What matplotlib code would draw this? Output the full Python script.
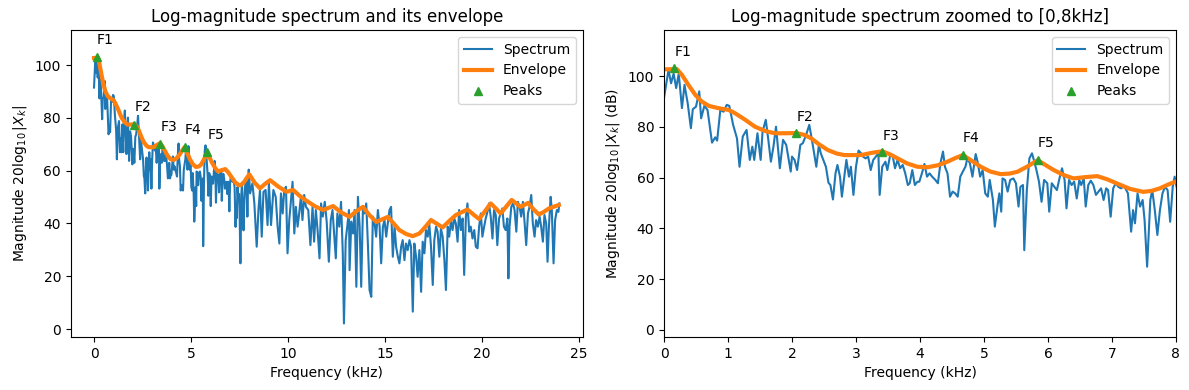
import matplotlib
matplotlib.use('Agg')
import matplotlib.pyplot as plt

# spectrum (kHz, dB)
spec_khz = [
    0.00, 0.07, 0.11, 0.15, 0.19, 0.23, 0.28, 0.32, 0.37, 0.42, 0.45, 0.50, 0.55, 0.58,
    0.63, 0.68, 0.75, 0.80, 0.83, 0.88, 0.93, 0.98, 1.02, 1.08, 1.14, 1.18, 1.23, 1.29,
    1.34, 1.38, 1.41, 1.46, 1.51, 1.54, 1.59, 1.63, 1.67, 1.71, 1.75, 1.81, 1.86, 1.91,
    1.98, 2.00, 2.04, 2.08, 2.13, 2.17, 2.22, 2.27, 2.32, 2.38, 2.42, 2.45, 2.49, 2.53,
    2.57, 2.60, 2.64, 2.68, 2.71, 2.75, 2.78, 2.82, 2.85, 2.89, 2.92, 2.96, 3.00, 3.04,
    3.08, 3.11, 3.15, 3.19, 3.23, 3.27, 3.31, 3.35, 3.37, 3.41, 3.46, 3.49, 3.53, 3.57,
    3.61, 3.65, 3.69, 3.73, 3.77, 3.81, 3.84, 3.88, 3.92, 3.96, 3.99, 4.03, 4.07, 4.11,
    4.15, 4.19, 4.24, 4.28, 4.32, 4.36, 4.39, 4.43, 4.47, 4.51, 4.55, 4.59, 4.63, 4.67,
    4.71, 4.74, 4.78, 4.82, 4.87, 4.90, 4.94, 4.98, 5.02, 5.06, 5.09, 5.14, 5.17, 5.21,
    5.24, 5.27, 5.29, 5.33, 5.37, 5.41, 5.46, 5.50, 5.54, 5.57, 5.61, 5.63, 5.67, 5.71,
    5.75, 5.78, 5.82, 5.86, 5.90, 5.94, 5.99, 6.02, 6.06, 6.10, 6.14, 6.18, 6.22, 6.26,
    6.29, 6.33, 6.37, 6.41, 6.45, 6.49, 6.52, 6.56, 6.59, 6.63, 6.67, 6.71, 6.75, 6.79,
    6.83, 6.87, 6.91, 6.94, 6.98, 7.02, 7.06, 7.10, 7.14, 7.18, 7.21, 7.25, 7.30, 7.33,
    7.36, 7.40, 7.44, 7.48, 7.51, 7.55, 7.60, 7.63, 7.67, 7.71, 7.75, 7.79, 7.83, 7.87,
    7.91, 7.95, 7.98,
    8.05, 8.17, 8.27, 8.39, 8.48, 8.56, 8.65, 8.74, 8.85, 8.95, 9.02, 9.13, 9.25, 9.37,
    9.47, 9.56, 9.64, 9.73, 9.81, 9.90, 9.98, 10.07, 10.16, 10.24, 10.33, 10.41, 10.50,
    10.58, 10.67, 10.75, 10.84, 10.93, 11.05, 11.16, 11.27, 11.35, 11.44, 11.53, 11.63,
    11.71, 11.80, 11.90, 12.00, 12.11, 12.21, 12.30, 12.38, 12.47, 12.55, 12.65, 12.74,
    12.83, 12.89, 12.98, 13.06, 13.15,
    13.18, 13.27, 13.36, 13.44, 13.53, 13.61, 13.70, 13.78, 13.87, 13.95, 14.04, 14.13,
    14.21, 14.30, 14.38, 14.47, 14.55, 14.64, 14.73, 14.81, 14.90, 14.98, 15.07, 15.15,
    15.24, 15.32, 15.41, 15.50, 15.58, 15.67, 15.75, 15.84, 15.92, 16.01, 16.09, 16.18,
    16.27, 16.35, 16.44, 16.52, 16.61, 16.69, 16.78, 16.87, 16.95, 17.04, 17.12, 17.21,
    17.29, 17.38, 17.47, 17.55, 17.64, 17.72, 17.81, 17.89, 17.98, 18.07, 18.15, 18.24,
    18.32, 18.41, 18.49,
    18.58, 18.66, 18.75, 18.83, 18.92, 19.01, 19.09, 19.18, 19.26, 19.35, 19.43, 19.52,
    19.61, 19.69, 19.78, 19.86, 19.95, 20.03, 20.12, 20.20, 20.29, 20.37, 20.46, 20.55,
    20.63, 20.72, 20.80, 20.89, 20.97, 21.06, 21.14, 21.23, 21.32, 21.37, 21.43, 21.52,
    21.61, 21.69, 21.78, 21.86, 21.95, 22.03, 22.12, 22.21, 22.29, 22.38, 22.46, 22.55,
    22.63, 22.72, 22.80, 22.89, 22.98, 23.06, 23.15, 23.23, 23.32, 23.39, 23.46, 23.55,
    23.61, 23.70, 23.78, 23.87, 23.95, 24.00,
]
spec_db = [
    91.5, 102.5, 97.2, 101.0, 95.3, 101.0, 87.4, 96.6, 89.3, 79.5, 87.0, 88.0, 94.0, 83.4,
    88.3, 86.7, 73.8, 75.9, 74.6, 86.7, 86.0, 88.7, 88.3, 80.8, 75.5, 64.3, 76.2, 78.8,
    67.0, 72.2, 67.0, 77.5, 67.0, 78.2, 82.8, 74.9, 66.3, 72.2, 80.1, 63.7, 74.9, 72.9,
    62.4, 68.3, 67.0, 63.0, 72.9, 73.6, 76.8, 80.8, 73.6, 64.3, 72.9, 69.6, 67.0, 64.3,
    58.0, 57.1, 51.4, 61.7, 65.0, 60.4, 52.5, 61.0, 67.0, 60.4, 64.3, 53.2, 64.3, 70.7,
    69.6, 68.3, 67.6, 68.3, 63.0, 67.0, 68.3, 69.6, 53.2, 64.3, 66.3, 63.0, 68.3, 69.0,
    63.7, 67.0, 63.7, 65.0, 61.7, 57.1, 57.8, 63.0, 57.1, 58.4, 58.4, 61.7, 65.4, 60.4,
    61.7, 60.4, 59.1, 57.8, 65.7, 70.3, 64.3, 61.7, 52.5, 54.5, 53.8, 52.5, 60.4, 62.4,
    64.3, 67.6, 65.7, 60.4, 69.3, 66.3, 60.4, 63.0, 53.8, 52.5, 59.1, 51.2, 40.7, 48.6,
    53.8, 46.6, 59.7, 59.1, 54.5, 59.1, 59.7, 57.8, 48.6, 56.4, 57.1, 31.4, 55.1, 67.6,
    69.6, 67.0, 63.0, 58.4, 50.5, 59.1, 57.8, 46.6, 57.8, 56.4, 55.1, 59.7, 63.7, 59.1,
    47.9, 59.1, 57.1, 58.4, 51.8, 59.1, 57.1, 59.7, 48.6, 57.1, 58.8, 57.1, 53.2, 54.5,
    55.8, 51.2, 55.8, 55.1, 44.6, 55.8, 57.8, 56.4, 55.8, 56.4, 55.8, 53.8, 38.7, 47.2,
    42.0, 53.8, 48.6, 51.2, 43.3, 24.9, 51.2, 55.1, 47.2, 37.4, 47.2, 53.8, 56.4, 55.1,
    42.6, 56.4, 60.4,
    51.4, 55.2, 47.6, 31.2, 45.1, 52.7, 35.0, 52.0, 52.7, 39.4, 55.2, 39.4, 52.7, 50.1,
    38.8, 32.4, 51.4, 43.8, 52.7, 53.9, 28.7, 41.3, 48.9, 55.8, 36.2, 46.3, 38.8,
    43.8, 50.1, 41.3, 50.8, 46.3, 45.1, 31.8, 46.3, 33.1, 45.1, 37.5, 26.8,
    47.6, 42.6, 48.2, 40.7, 25.5, 41.3, 45.1, 36.2, 26.8, 43.8, 38.8, 48.2,
    28.7, 2.1, 33.7, 38.8, 45.1,
    22.3, 40.7, 36.2, 45.1, 16.0, 50.1, 38.8, 16.0, 46.3, 43.8, 47.6, 31.2,
    14.8, 12.2, 42.6, 40.0, 35.0, 45.1, 38.8, 24.9, 38.8, 41.3, 35.0, 40.0,
    45.1, 46.3, 27.4, 38.8, 31.2, 27.4, 24.9, 31.2, 33.7, 26.1, 32.4, 29.9,
    33.7, 31.2, 6.6, 32.4, 27.4, 19.8, 29.9, 14.1, 33.1, 28.7, 37.5, 35.0,
    40.0, 31.2, 16.7, 33.7, 38.8, 36.9, 27.4, 38.1, 35.0, 26.1, 14.8, 38.8,
    35.0, 41.3, 37.5,
    41.9, 40.0, 33.1, 45.1, 37.5, 41.9, 20.5, 42.6, 47.6, 36.9, 38.8, 34.3,
    37.5, 31.2, 30.6, 38.8, 43.8, 35.0, 38.8, 41.9, 44.4, 47.6, 42.6, 34.3,
    45.1, 43.2, 31.8, 41.9, 43.8, 45.7, 38.8, 37.5, 41.9, 19.2, 38.8, 46.3,
    47.6, 45.1, 36.9, 48.2, 46.3, 42.6, 48.2, 40.0, 31.8, 43.8, 46.3, 50.8,
    40.0, 35.0, 41.3, 38.8, 42.6, 38.8, 33.1, 43.2, 40.0, 25.5, 38.8, 50.1,
    45.1, 24.9, 41.3, 45.1, 44.4, 47.6,
]

# smoothed envelope
env_khz = [
    0.00, 0.20, 0.28, 0.38, 0.49, 0.59, 0.70, 0.85, 1.01, 1.11, 1.27, 1.42, 1.58, 1.73,
    1.89, 2.07, 2.20, 2.30, 2.43, 2.56, 2.70, 2.82, 3.08, 3.25, 3.41, 3.53, 3.65, 3.80,
    3.96, 4.12, 4.28, 4.43, 4.56, 4.67, 4.80, 4.95, 5.10, 5.26, 5.40, 5.52, 5.68, 5.84,
    5.96, 6.09, 6.25, 6.40, 6.58, 6.77, 6.92, 7.08, 7.28, 7.49, 7.62, 7.75, 7.88, 8.01,
    8.28, 8.56, 8.82, 9.08, 9.50, 9.93, 10.27, 10.60, 10.96, 11.40, 11.81, 12.33, 12.75,
    13.18, 13.55, 13.87, 14.20, 14.56, 15.15, 15.45, 15.75, 16.10, 16.44, 16.78, 17.10,
    17.38, 17.70, 17.98, 18.30, 18.66, 19.26, 19.55, 19.86, 20.15, 20.46, 20.72, 20.97,
    21.25, 21.54, 22.00, 22.39, 22.65, 22.94, 23.20, 23.46, 23.97,
]
env_db = [
    102.7, 102.8, 100.5, 96.6, 92.6, 90.0, 88.3, 87.4, 86.7, 85.4, 82.8, 80.1, 78.4, 77.5,
    77.5, 77.6, 76.8, 75.5, 73.0, 70.9, 69.5, 68.9, 68.9, 69.8, 70.4, 69.2, 67.6, 65.6,
    64.3, 64.1, 64.9, 66.3, 67.8, 68.9, 66.8, 64.3, 62.4, 61.4, 61.6, 62.3, 64.4, 66.9,
    65.0, 63.0, 61.0, 59.7, 60.2, 60.6, 59.4, 57.7, 55.6, 54.4, 54.8, 55.8, 57.3, 58.6,
    55.5, 53.3, 55.0, 56.4, 54.0, 52.0, 52.7, 50.5, 48.6, 46.5, 45.1, 46.6, 44.2,
    42.5, 44.8, 46.3, 43.2, 40.6, 42.5, 40.0, 37.5, 36.0, 35.2, 36.2, 38.8,
    41.3, 39.8, 38.5, 40.8, 43.2, 45.3, 43.5, 41.7, 44.5, 47.6, 45.7, 43.8,
    46.3, 48.9, 46.3, 47.8, 45.5, 43.4, 44.4, 45.7, 47.0,
]

peak_names = ['F1', 'F2', 'F3', 'F4', 'F5']
peak_khz = [0.16, 2.07, 3.41, 4.67, 5.84]
peak_db = [103.1, 77.5, 70.0, 68.9, 66.9]


def draw(ax, ylabel):
    ax.plot(spec_khz, spec_db, label='Spectrum')
    ax.plot(env_khz, env_db, linewidth=3, label='Envelope')
    ax.plot(peak_khz, peak_db, '^', label='Peaks')
    for name, f, db in zip(peak_names, peak_khz, peak_db):
        ax.text(f, db + 5, name)
    ax.set_xlabel('Frequency (kHz)')
    ax.set_ylabel(ylabel)
    ax.legend(loc='upper right')


fig, (ax1, ax2) = plt.subplots(1, 2, figsize=(11.89, 3.9), dpi=100)
plt.subplots_adjust(left=0.0595, right=0.989, bottom=0.136, top=0.923, wspace=0.159)

draw(ax1, r'Magnitude $20\log_{10}|X_k|$')
ax1.set_title('Log-magnitude spectrum and its envelope')
ax1.set_ylim(-3, 113.3)

draw(ax2, r'Magnitude $20\log_{10}|X_k|$ (dB)')
ax2.set_title('Log-magnitude spectrum zoomed to [0,8kHz]')
ax2.set_xlim(0, 8)
ax2.set_ylim(-2.8, 118.2)

plt.savefig('out.png')
